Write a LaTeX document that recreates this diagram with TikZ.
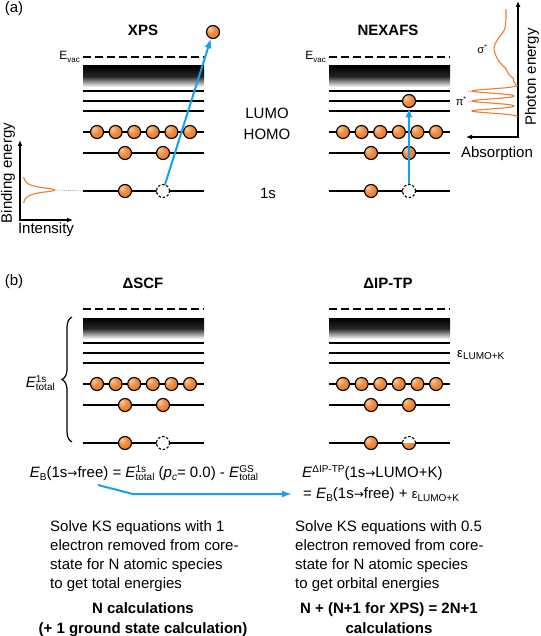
\documentclass[tikz,border=0pt]{standalone}
\usepackage{fontspec}
\setmainfont{Liberation Sans}
\newfontfamily\djv{DejaVu Sans}
\usetikzlibrary{arrows.meta,decorations.pathreplacing,calc}
\definecolor{orng}{RGB}{240,138,62}
\definecolor{orlight}{RGB}{252,205,160}
\definecolor{ordark}{RGB}{215,110,40}
\definecolor{specor}{RGB}{237,125,49}
\definecolor{arrblue}{RGB}{20,160,240}
\pgfdeclareradialshading{orb}{\pgfpoint{-14bp}{14bp}}{color(0bp)=(orlight); color(18bp)=(orng); color(45bp)=(ordark); color(60bp)=(ordark)}
\newcommand\sbs[1]{\raisebox{-3pt}{\fontsize{10}{10}\selectfont #1}}
\newcommand\sps[1]{\raisebox{5.5pt}{\fontsize{10}{10}\selectfont #1}}
\newcommand\spsb[2]{\makebox[0pt][l]{\sps{#1}}\sbs{#2}}
\newcommand\toarr{{\djv\fontsize{12}{12}\selectfont →}}
\tikzset{
 lvl/.style={line width=1.4pt},
 vacl/.style={line width=1.4pt, dash pattern=on 7.5pt off 4.5pt},
 electron/.style={circle, draw=black, line width=1.1pt, shading=orb, minimum size=13pt, inner sep=0pt, outer sep=0pt},
 hole/.style={circle, draw=black, line width=1.1pt, dash pattern=on 2.5pt off 1.8pt, fill=white, minimum size=13pt, inner sep=0pt, outer sep=0pt},
 lbl/.style={font=\fontsize{15}{19}\selectfont, inner sep=0pt},
 ttl/.style={font=\fontsize{15}{18}\selectfont\bfseries, inner sep=0pt},
 bld/.style={font=\fontsize{15}{20}\selectfont\bfseries, inner sep=0pt, align=center},
 excite/.style={draw=arrblue, line width=2pt, -{Latex[length=10pt,width=7pt]}},
 axarr/.style={line width=1.3pt, line join=miter, {Latex[length=6pt,width=5pt]}-{Latex[length=6pt,width=5pt]}},
 specln/.style={draw=specor, line width=1.1pt},
 leader/.style={draw=gray!70, line width=0.6pt, dash pattern=on 1.2pt off 0.8pt},
}
\newcommand\leveldiag[3]{%
\begin{scope}[shift={(#2,#3)}]
\draw[vacl] (83,57) -- (204,57);
\shade[top color=black, bottom color=white, middle color=black!85] (83,66) rectangle (204,87);
\foreach \yy in {91,101,111,132,153,191} \draw[lvl] (83,\yy) -- (204,\yy);
\foreach \i in {0,...,5} \node[electron] (#1h\i) at ({97+18.6*\i},132) {};
\node[electron] (#1m1) at (125,153) {};
\node[electron] (#1m2) at (163,153) {};
\node[electron] (#1c1) at (125,191) {};
\end{scope}}
\begin{document}
\begin{tikzpicture}[x=1pt,y=-1pt]
\useasboundingbox (0,0) rectangle (540,636);
% panel labels and titles
\node[lbl] (pa) at (14,9) {(a)};
\node[lbl] (pb) at (14,282) {(b)};
\node[ttl] (txps) at (143,30) {XPS};
\node[ttl] (tnex) at (388,30) {NEXAFS};
\node[ttl] (tscf) at (143,283) {ΔSCF};
\node[ttl] (tip) at (388,283) {ΔIP-TP};
% level diagrams
\leveldiag{x}{0}{0}
\leveldiag{n}{246}{0}
\leveldiag{s}{0}{252}
\leveldiag{t}{246}{252}
% E_vac labels
\node[inner sep=0pt, anchor=east] (evx) at (80,57) {\fontsize{12}{12}\selectfont E\raisebox{-2.5pt}{\fontsize{8}{8}\selectfont vac}};
\node[inner sep=0pt, anchor=east] (evn) at (326,57) {\fontsize{12}{12}\selectfont E\raisebox{-2.5pt}{\fontsize{8}{8}\selectfont vac}};
% middle labels
\node[lbl] (lumo) at (267,113) {LUMO};
\node[lbl] (homo) at (267,134) {HOMO};
\node[lbl] (ones) at (268,193) {1s};
% XPS extras
\node[hole] (xc2) at (163,191) {};
\node[electron] (xfree) at (213,32) {};
% NEXAFS extras
\node[hole] (nc2) at (409,191) {};
\node[electron] (nlumo) at (409,101) {};
% dSCF hole
\node[hole] (sc2) at (163,443) {};
% IP-TP half hole
\node[circle, minimum size=13pt, inner sep=0pt, outer sep=0pt, fill=white] (tc2) at (409,443) {};
\begin{scope}
\clip (402,443) rectangle (416,451);
\shade[shading=orb] (tc2.center) circle[radius=6.5pt];
\end{scope}
\draw[line width=1.1pt] (tc2.east) arc[start angle=0,end angle=-180,radius=6.5pt];
\draw[line width=1.1pt, dash pattern=on 2.5pt off 1.8pt] (tc2.east) arc[start angle=0,end angle=180,radius=6.5pt];
% excitation arrows
\draw[excite] (xc2) -- (xfree);
\draw[excite] (nc2) -- (nlumo);
% binding energy inset
\coordinate (bey) at (20,140);
\coordinate (beo) at (20,220);
\coordinate (bex) at (73,220);
\draw[axarr] (bey) -- (beo) -- (bex);
\draw[specln] plot[domain=-13:13, samples=80, smooth] ({22+33/(1+(\x/3)^2)}, {190+\x});
\coordinate (pk) at (56,190);
\draw[leader] (pk) -- (xc1 -| 83,0);
\node[lbl, rotate=90] (bel) at (8,173) {Binding energy};
\node[lbl] (intl) at (46,230) {Intensity};
% photon energy inset
\coordinate (pey) at (518,1);
\coordinate (peo) at (518,137);
\coordinate (pex) at (466,137);
\draw[axarr] (pey) -- (peo) -- (pex);
\draw[specln] plot[smooth, tension=0.6] coordinates {(506,9) (505,28) (498,39) (494,48) (498,60) (506,69) (509,75) (513,78) (514,82) (517,86)};
\draw[specln] plot[domain=85:117, samples=140, smooth] ({518-46*(exp(((\x-91)^2)/(-8))+exp(((\x-101)^2)/(-8))+exp(((\x-111)^2)/(-8)))}, {\x});
\node[lbl, rotate=90] (pel) at (532,77) {Photon energy};
\node[lbl] (absl) at (497,154) {Absorption};
\node[inner sep=0pt] (sig) at (482,49) {\fontsize{11}{11}\selectfont σ\raisebox{4pt}{\fontsize{7}{7}\selectfont *}};
\node[inner sep=0pt] (pil) at (461,101) {\fontsize{11}{11}\selectfont π\raisebox{4pt}{\fontsize{7}{7}\selectfont *}};
\draw[leader] (468,101) -- (478,101);
\draw[leader] (468,91) -- (472,91);
% brace and label
\coordinate (brb) at (72,442);
\coordinate (brt) at (72,317);
\draw[line width=1.2pt, decorate, decoration={brace, amplitude=10pt}] (brb) -- (brt);
\node[lbl, anchor=east] (etot) at (55,383) {\textit{E}\spsb{1s}{total}};
\node[inner sep=0pt, anchor=west] (eps) at (457,355) {\fontsize{13}{13}\selectfont ε\raisebox{-2.5pt}{\fontsize{10}{10}\selectfont LUMO+K}};
% equations
\node[lbl] (eql) at (144,473) {\textit{E}\sbs{B}(1s\toarr free) = \textit{E}\spsb{1s}{total} (\textit{p}\sbs{\textit{c}}= 0.0) - \textit{E}\spsb{GS}{total}};
\node[lbl, anchor=west] (eqr1) at (302,473) {\textit{E}\sps{ΔIP-TP}(1s\toarr LUMO+K)};
\node[lbl, anchor=west] (eqr2) at (303,495) {= \textit{E}\sbs{B}(1s\toarr free) + {\fontsize{13}{13}\selectfont ε}\sbs{LUMO+K}};
\coordinate (bls) at (98,485);
\coordinate (blb) at (133,494);
\draw[excite, shorten >=11pt] (bls) -- (blb) -- (blb -| eqr2.west);
% text blocks
\node[lbl, align=left, anchor=north west] (ltxt) at (50,520) {Solve KS equations with 1\\electron removed from core-\\state for N atomic species\\to get total energies};
\node[lbl, align=left, anchor=north west] (rtxt) at (295,520) {Solve KS equations with 0.5\\electron removed from core-\\state for N atomic species\\to get orbital energies};
\node[bld, anchor=north] (lbold) at (143,602) {N calculations\\(+ 1 ground state calculation)};
\node[bld, anchor=north] (rbold) at (389,602) {N + (N+1 for XPS) = 2N+1\\calculations};
\end{tikzpicture}
\end{document}
